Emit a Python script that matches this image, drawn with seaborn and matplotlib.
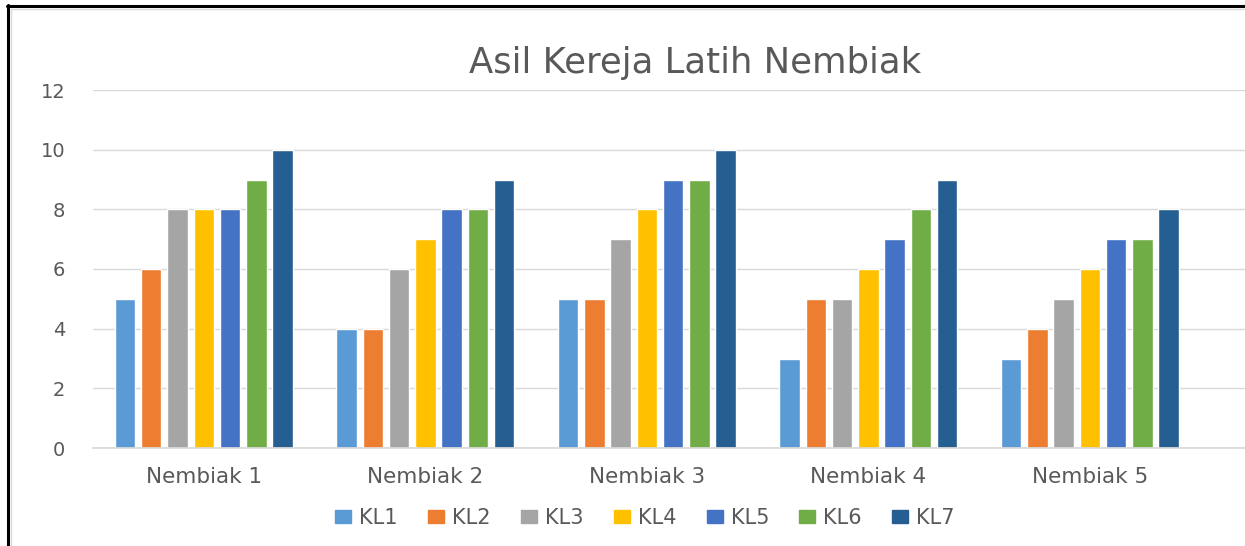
import matplotlib
matplotlib.use("Agg")
import matplotlib.pyplot as plt
from matplotlib.lines import Line2D
import pandas as pd
import seaborn as sns

# values
groups = ["Nembiak 1", "Nembiak 2", "Nembiak 3", "Nembiak 4", "Nembiak 5"]
series = ["KL1", "KL2", "KL3", "KL4", "KL5", "KL6", "KL7"]
kl1 = [5, 4, 5, 3, 3]
kl2 = [6, 4, 5, 5, 4]
kl3 = [8, 6, 7, 5, 5]
kl4 = [8, 7, 8, 6, 6]
kl5 = [8, 8, 9, 7, 7]
kl6 = [9, 8, 9, 8, 7]
kl7 = [10, 9, 10, 9, 8]
colours = ["#5B9BD5", "#ED7D31", "#A5A5A5", "#FFC000", "#4472C4", "#70AD47", "#255E91"]

rows = []
for name, vals in zip(series, [kl1, kl2, kl3, kl4, kl5, kl6, kl7]):
    for g, v in zip(groups, vals):
        rows.append({"group": g, "series": name, "value": v})
df = pd.DataFrame(rows)

sns.set_theme(style="white")
# the screenshot is stretched sideways, so a wide face fits it best
plt.rcParams["font.family"] = ["DejaVu Sans"]
TXT = "#595959"

W, H = 1245, 546
fig = plt.figure(figsize=(W / 100, H / 100), dpi=100)
ax = fig.add_axes([93 / W, (H - 448) / H, (W - 93) / W, (448 - 90) / H])

sns.barplot(data=df, x="group", y="value", hue="series", hue_order=series,
            order=groups, palette=colours, width=0.83, gap=0.22,
            saturation=1, ax=ax, legend=False)

ax.set_xlim(-0.5, 4.70)
ax.set_ylim(0, 12)
ax.set_yticks(range(0, 13, 2))
ax.yaxis.grid(True, color="#D9D9D9", linewidth=1)
ax.set_axisbelow(True)
for side in ["top", "right", "left"]:
    ax.spines[side].set_visible(False)
ax.spines["bottom"].set_color("#D9D9D9")
ax.set_xlabel("")
ax.set_ylabel("")
ax.tick_params(axis="y", length=0, pad=20, labelsize=14, labelcolor=TXT)
ax.tick_params(axis="x", length=0, pad=14, labelsize=15.5, labelcolor=TXT)

fig.text(695 / W, 1 - 63 / H, "Asil Kereja Latih Nembiak", ha="center", va="center",
         fontsize=25.5, color=TXT)

handles = [plt.Rectangle((0, 0), 1, 1, color=c) for c in colours]
fig.legend(handles, series, loc="center", bbox_to_anchor=(645 / W, 1 - 518 / H),
           ncol=7, frameon=False, fontsize=15, labelcolor=TXT,
           handlelength=0.77, handleheight=0.53, handletextpad=0.38,
           columnspacing=1.46)

# screenshot frame: black edge top/left, faint grey inner edge
fig.add_artist(Line2D([7.5 / W, 7.5 / W], [0, 1 - 5 / H], color="black", linewidth=2.2))
fig.add_artist(Line2D([6.5 / W, 1], [1 - 6 / H, 1 - 6 / H], color="black", linewidth=2.2))
fig.add_artist(Line2D([11 / W, 11 / W], [0, 1 - 9 / H], color="#D9D9D9", linewidth=1))
fig.add_artist(Line2D([11 / W, 1], [1 - 9 / H, 1 - 9 / H], color="#D9D9D9", linewidth=1))

fig.savefig("out.png", dpi=100)
